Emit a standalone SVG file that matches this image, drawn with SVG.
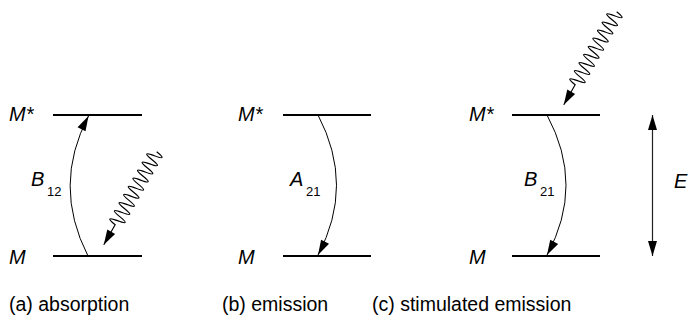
<svg xmlns="http://www.w3.org/2000/svg" width="690" height="322" viewBox="0 0 690 322">
<style>
.lvl{stroke:#000;stroke-width:2;fill:none}
.tr{stroke:#000;stroke-width:1;fill:none;marker-end:url(#ah)}
.wave{stroke:#000;stroke-width:1.2;fill:none;marker-end:url(#ah)}
.lab{font-family:"Liberation Sans",Arial,sans-serif;font-style:italic;font-size:20px;fill:#000}
.sub{font-family:"Liberation Sans",Arial,sans-serif;font-size:13px;fill:#000}
.cap{font-family:"Liberation Sans",Arial,sans-serif;font-size:19.5px;fill:#000}
</style>
<defs>
<marker id="ah" markerUnits="userSpaceOnUse" markerWidth="16" markerHeight="10" viewBox="0 -5 15 10" refX="15" refY="0" orient="auto" overflow="visible">
<path d="M0,-4.5 L15,0 L0,4.5 z" fill="#000"/>
</marker>
<marker id="ah2" markerUnits="userSpaceOnUse" markerWidth="16" markerHeight="10" viewBox="0 -5 15 10" refX="15" refY="0" orient="auto-start-reverse" overflow="visible">
<path d="M0,-4.5 L15,0 L0,4.5 z" fill="#000"/>
</marker>
<path id="wv" d="M0,0 c1.556,-10 3.111,-10 4.667,0 c1.556,10 3.111,10 4.667,0 c1.556,-10 3.111,-10 4.667,0 c1.556,10 3.111,10 4.667,0 c1.556,-10 3.111,-10 4.667,0 c1.556,10 3.111,10 4.667,0 c1.556,-10 3.111,-10 4.667,0 c1.556,10 3.111,10 4.667,0 c1.556,-10 3.111,-10 4.667,0 c1.556,10 3.111,10 4.667,0 c1.556,-10 3.111,-10 4.667,0 c1.556,10 3.111,10 4.667,0 c1.556,-10 3.111,-10 4.667,0 c1.556,10 3.111,10 4.667,0 c1.556,-10 3.111,-10 4.667,0 c1.556,10 3.111,10 4.667,0 c1.556,-10 3.111,-10 4.667,0 c1.556,10 3.111,10 4.667,0 L107,0"/>
</defs>

<g id="panel-a">
<g id="a-upper"><line class="lvl" x1="53" y1="115" x2="142" y2="115"/><text class="lab" x="9" y="121">M*</text></g>
<g id="a-lower"><line class="lvl" x1="53" y1="256" x2="142" y2="256"/><text class="lab" x="9" y="264">M</text></g>
<g id="a-label"><text class="lab" x="31" y="186">B</text><text class="sub" x="47" y="196">12</text></g>
<text class="cap" x="9" y="311">(a) absorption</text>
</g>

<g id="panel-b">
<g id="b-upper"><line class="lvl" x1="283" y1="115" x2="371" y2="115"/><text class="lab" x="238" y="121">M*</text></g>
<g id="b-lower"><line class="lvl" x1="283" y1="256" x2="371" y2="256"/><text class="lab" x="238" y="264">M</text></g>
<g id="b-label"><text class="lab" x="290" y="186">A</text><text class="sub" x="306" y="196">21</text></g>
<text class="cap" x="222" y="311">(b) emission</text>
</g>

<g id="panel-c">
<g id="c-upper"><line class="lvl" x1="512" y1="115" x2="600" y2="115"/><text class="lab" x="469" y="121">M*</text></g>
<g id="c-lower"><line class="lvl" x1="512" y1="256" x2="600" y2="256"/><text class="lab" x="469" y="264">M</text></g>
<g id="c-label"><text class="lab" x="524" y="186">B</text><text class="sub" x="540" y="196">21</text></g>
<g id="c-energy-label"><text class="lab" x="674" y="188">E</text></g>
<text class="cap" x="372" y="311">(c) stimulated emission</text>
</g>

<g id="connectors">
<path class="tr" d="M88,256 Q52,185.5 88.5,116"/>
<path class="tr" d="M318,115 Q355,185.5 318,255"/>
<path class="tr" d="M547,115 Q585,185.5 547,255"/>
<g transform="translate(156.7,151.7) rotate(119.64)"><use href="#wv" class="wave"/></g>
<g transform="translate(616.7,11.7) rotate(119.64)"><use href="#wv" class="wave"/></g>
<line x1="652.5" y1="115" x2="652.5" y2="256" stroke="#222" stroke-width="1.2" marker-start="url(#ah2)" marker-end="url(#ah2)"/>
</g>
</svg>
